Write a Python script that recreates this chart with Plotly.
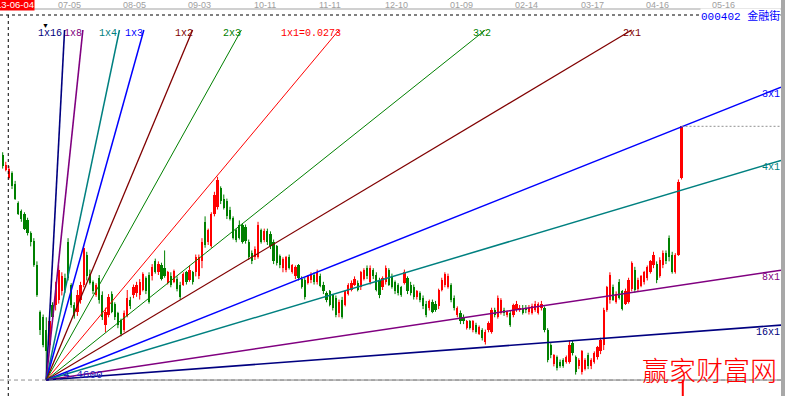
import plotly.graph_objects as go

# ---------------- data ----------------
FIRST_IDX = -2          # bar index of the first bar (index 0 = 2013-06-04)
DATES = ["07-05", "08-05", "09-03", "10-11", "11-11", "12-10",
         "01-09", "02-14", "03-17", "04-16", "05-16"]
DATE_IDX = [20, 41, 62, 83, 104, 125, 146, 167, 188, 209, 230]

OPEN = [
    6.11, 6.00, 5.94, 5.98, 5.90, 5.76, 5.70, 5.68, 5.63, 5.54,
    5.48, 5.30, 4.96, 4.92, 4.83, 4.72, 5.01, 5.01, 5.05, 5.11,
    5.21, 5.47, 5.16, 5.01, 4.96, 5.05, 5.16, 5.38, 5.24, 5.18,
    5.08, 5.21, 5.08, 4.86, 4.94, 5.09, 5.02, 4.95, 4.90, 4.83,
    4.93, 5.05, 5.08, 5.10, 5.08, 5.12, 5.21, 5.23, 5.22, 5.33,
    5.25, 5.30, 5.28, 5.17, 5.22, 5.18, 5.20, 5.16, 5.16, 5.25,
    5.19, 5.25, 5.25, 5.22, 5.33, 5.62, 5.47, 5.44, 5.68, 5.73,
    5.87, 5.79, 5.77, 5.71, 5.65, 5.56, 5.60, 5.60, 5.58, 5.47,
    5.39, 5.36, 5.36, 5.56, 5.49, 5.55, 5.53, 5.47, 5.44, 5.37,
    5.28, 5.27, 5.36, 5.25, 5.22, 5.30, 5.20, 5.19, 5.17, 5.19,
    5.23, 5.18, 5.22, 5.16, 5.10, 5.11, 5.08, 5.06, 4.95, 5.05,
    5.01, 5.09, 5.12, 5.16, 5.17, 5.14, 5.20, 5.28, 5.18, 5.27,
    5.23, 5.19, 5.14, 5.18, 5.27, 5.22, 5.18, 5.16, 5.14, 5.17,
    5.21, 5.16, 5.14, 5.07, 5.10, 5.06, 5.02, 4.99, 5.03, 5.02,
    5.00, 5.12, 5.16, 5.14, 5.16, 5.06, 4.94, 4.95, 4.92, 4.84,
    4.89, 4.83, 4.86, 4.80, 4.83, 4.74, 4.83, 4.81, 4.97, 4.92,
    4.95, 4.97, 4.94, 4.95, 4.94, 4.97, 4.97, 4.99, 4.99, 4.96,
    4.95, 4.97, 4.95, 4.99, 4.99, 4.83, 4.72, 4.58, 4.63, 4.59,
    4.61, 4.59, 4.59, 4.73, 4.63, 4.56, 4.52, 4.54, 4.64, 4.56,
    4.59, 4.63, 4.67, 4.72, 4.97, 5.05, 5.14, 5.03, 5.18, 5.11,
    5.02, 5.03, 5.13, 5.27, 5.13, 5.15, 5.18, 5.21, 5.25, 5.30,
    5.31, 5.22, 5.30, 5.39, 5.50, 5.38, 5.25, 5.38, 5.94,
]
HIGH = [
    6.13, 6.06, 6.03, 5.99, 5.92, 5.77, 5.71, 5.69, 5.65, 5.55,
    5.50, 5.33, 4.97, 4.94, 4.92, 4.92, 5.03, 5.18, 5.30, 5.25,
    5.24, 5.50, 5.17, 5.03, 5.12, 5.18, 5.45, 5.40, 5.27, 5.19,
    5.17, 5.23, 5.11, 4.99, 5.09, 5.11, 5.03, 4.96, 4.91, 4.97,
    5.12, 5.07, 5.16, 5.18, 5.20, 5.25, 5.22, 5.25, 5.31, 5.35,
    5.33, 5.32, 5.41, 5.26, 5.25, 5.27, 5.22, 5.18, 5.25, 5.26,
    5.30, 5.26, 5.38, 5.38, 5.50, 5.66, 5.57, 5.69, 5.84, 5.95,
    5.88, 5.82, 5.79, 5.73, 5.66, 5.57, 5.63, 5.61, 5.60, 5.49,
    5.41, 5.44, 5.62, 5.57, 5.57, 5.57, 5.55, 5.49, 5.45, 5.38,
    5.36, 5.37, 5.38, 5.31, 5.30, 5.31, 5.22, 5.21, 5.23, 5.25,
    5.25, 5.27, 5.24, 5.18, 5.11, 5.12, 5.09, 5.08, 5.05, 5.07,
    5.12, 5.17, 5.19, 5.22, 5.19, 5.26, 5.28, 5.30, 5.30, 5.28,
    5.25, 5.21, 5.22, 5.30, 5.28, 5.24, 5.19, 5.17, 5.15, 5.27,
    5.22, 5.18, 5.16, 5.12, 5.11, 5.08, 5.04, 5.05, 5.05, 5.04,
    5.13, 5.21, 5.25, 5.24, 5.17, 5.08, 5.00, 4.97, 4.94, 4.90,
    4.90, 4.90, 4.88, 4.86, 4.84, 4.83, 4.89, 4.99, 4.99, 5.08,
    5.06, 4.99, 4.97, 4.97, 5.02, 5.04, 5.01, 5.01, 5.01, 5.01,
    5.02, 5.04, 5.03, 5.04, 5.00, 4.84, 4.73, 4.65, 4.64, 4.61,
    4.62, 4.64, 4.75, 4.75, 4.64, 4.62, 4.68, 4.62, 4.66, 4.62,
    4.67, 4.71, 4.77, 4.99, 5.15, 5.25, 5.16, 5.11, 5.20, 5.12,
    5.13, 5.21, 5.33, 5.29, 5.21, 5.23, 5.26, 5.30, 5.34, 5.40,
    5.33, 5.36, 5.41, 5.41, 5.52, 5.40, 5.39, 5.93, 6.32,
]
LOW = [
    6.01, 5.99, 5.93, 5.86, 5.78, 5.67, 5.62, 5.56, 5.52, 5.44,
    5.29, 5.07, 4.79, 4.70, 4.46, 4.68, 4.89, 4.97, 5.02, 5.08,
    5.10, 5.19, 4.99, 4.91, 4.93, 5.02, 5.14, 5.19, 5.16, 5.09,
    5.07, 5.02, 4.90, 4.81, 4.92, 4.95, 4.90, 4.84, 4.78, 4.81,
    4.92, 4.98, 5.06, 5.07, 5.05, 5.11, 5.09, 5.02, 5.19, 5.24,
    5.23, 5.19, 5.21, 5.16, 5.14, 5.17, 5.11, 5.05, 5.15, 5.16,
    5.18, 5.16, 5.22, 5.20, 5.28, 5.43, 5.45, 5.43, 5.66, 5.71,
    5.75, 5.71, 5.64, 5.63, 5.49, 5.47, 5.49, 5.46, 5.46, 5.34,
    5.31, 5.34, 5.35, 5.46, 5.47, 5.45, 5.42, 5.31, 5.30, 5.28,
    5.25, 5.25, 5.27, 5.24, 5.20, 5.19, 5.13, 5.05, 5.16, 5.17,
    5.16, 5.16, 5.14, 5.09, 5.03, 5.00, 4.97, 4.92, 4.92, 4.91,
    5.00, 5.08, 5.11, 5.15, 5.11, 5.12, 5.19, 5.20, 5.16, 5.20,
    5.11, 5.06, 5.12, 5.16, 5.15, 5.13, 5.09, 5.08, 5.07, 5.16,
    5.09, 5.08, 5.05, 5.05, 5.03, 4.98, 4.92, 4.97, 4.95, 4.96,
    4.98, 5.11, 5.14, 5.13, 5.03, 4.97, 4.92, 4.87, 4.87, 4.83,
    4.83, 4.81, 4.80, 4.79, 4.75, 4.72, 4.81, 4.80, 4.92, 4.91,
    4.94, 4.93, 4.92, 4.85, 4.92, 4.96, 4.96, 4.94, 4.95, 4.94,
    4.94, 4.96, 4.94, 4.97, 4.81, 4.59, 4.62, 4.56, 4.53, 4.55,
    4.55, 4.58, 4.58, 4.64, 4.50, 4.54, 4.50, 4.53, 4.54, 4.54,
    4.58, 4.61, 4.65, 4.68, 4.96, 5.02, 5.04, 5.02, 5.05, 4.97,
    5.01, 5.02, 5.11, 5.10, 5.11, 5.14, 5.16, 5.19, 5.24, 5.28,
    5.17, 5.21, 5.28, 5.31, 5.33, 5.24, 5.24, 5.37, 5.93,
]
CLOSE = [
    6.03, 6.04, 6.01, 5.88, 5.79, 5.68, 5.64, 5.57, 5.54, 5.47,
    5.30, 5.08, 4.83, 4.72, 4.67, 4.89, 4.92, 5.16, 5.27, 5.22,
    5.12, 5.21, 5.01, 4.93, 5.08, 5.16, 5.43, 5.22, 5.17, 5.11,
    5.16, 5.05, 4.92, 4.96, 5.07, 4.96, 4.92, 4.86, 4.80, 4.95,
    5.06, 5.00, 5.14, 5.16, 5.18, 5.24, 5.11, 5.03, 5.29, 5.25,
    5.31, 5.20, 5.22, 5.25, 5.16, 5.26, 5.13, 5.07, 5.24, 5.18,
    5.27, 5.18, 5.36, 5.36, 5.47, 5.45, 5.56, 5.68, 5.82, 5.93,
    5.77, 5.72, 5.66, 5.64, 5.50, 5.49, 5.50, 5.47, 5.48, 5.36,
    5.33, 5.42, 5.60, 5.47, 5.55, 5.47, 5.44, 5.33, 5.32, 5.30,
    5.35, 5.36, 5.28, 5.30, 5.29, 5.21, 5.14, 5.07, 5.22, 5.24,
    5.18, 5.25, 5.15, 5.11, 5.05, 5.01, 4.99, 4.94, 5.03, 4.92,
    5.11, 5.16, 5.17, 5.20, 5.12, 5.25, 5.27, 5.22, 5.28, 5.22,
    5.12, 5.08, 5.21, 5.28, 5.16, 5.14, 5.11, 5.10, 5.08, 5.25,
    5.11, 5.10, 5.07, 5.11, 5.05, 5.00, 4.94, 5.04, 4.96, 4.97,
    5.12, 5.19, 5.24, 5.22, 5.05, 4.99, 4.99, 4.89, 4.89, 4.89,
    4.84, 4.89, 4.81, 4.85, 4.77, 4.81, 4.88, 4.97, 4.94, 5.06,
    5.05, 4.95, 4.96, 4.86, 5.01, 5.02, 4.99, 4.95, 4.97, 4.99,
    5.00, 5.02, 5.02, 5.02, 4.83, 4.61, 4.64, 4.64, 4.55, 4.56,
    4.56, 4.63, 4.72, 4.66, 4.52, 4.61, 4.67, 4.61, 4.56, 4.61,
    4.66, 4.70, 4.75, 4.97, 5.14, 5.23, 5.05, 5.09, 5.06, 4.98,
    5.11, 5.19, 5.32, 5.12, 5.19, 5.22, 5.25, 5.29, 5.33, 5.38,
    5.19, 5.34, 5.39, 5.33, 5.36, 5.25, 5.38, 5.91, 6.32,
]

STOCK_LABEL = "000402 金融街"
CURSOR_DATE = "13-06-04"
CURSOR_IDX = 0
WATERMARK = "赢家财富网"

ORIGIN_IDX = 12          # low bar of the Gann fan
ORIGIN_PRICE = 4.46
UNIT = 0.0273            # 1x1 price per bar
FAN_NAMES = ["1x16", "1x8", "1x4", "1x3", "1x2", "2x3", "1x1=0.0273",
             "3x2", "2x1", "3x1", "4x1", "8x1", "16x1"]
FAN_RATIOS = [16, 8, 4, 3, 2, 1.5, 1, 2 / 3, 1 / 2, 1 / 3, 1 / 4, 1 / 8, 1 / 16]

# ---------------- styles ----------------
FAN_COLORS = ["#000080", "#800080", "#008080", "#0000FF", "#800000", "#008000",
              "#FF0000", "#008000", "#800000", "#0000FF", "#008080", "#800080",
              "#000080"]
FAN_WIDTHS = [1.6, 1.6, 1.5, 1.5, 1.3, 1.0, 1.0, 1.0, 1.2, 1.5, 1.5, 1.6, 1.6]
FAN_ANCHORS = ["right", "right", "right", "right", "right", "right", "right",
               "center", "center", "right", "right", "right", "right"]
FAN_XSHIFTS = [-2, 0, -1, 0, 1, 1, 3, -3, 0, 0, 0, 0, 0]
UP_COLOR = "#FF0000"
DOWN_COLOR = "#008000"

W, H = 785, 396
ML, MR, MT, MB = 0, 4, 9, 0
PLOT_H = H - MT - MB
X_RANGE = [-2.86, 247.94]
Y_RANGE = [4.343, 7.180]
FAN_TOP = 7.026


def paper_y(px):
    """pixel row (from top of page) -> paper coordinate"""
    return (H - MB - px) / PLOT_H


idx = list(range(FIRST_IDX, FIRST_IDX + len(OPEN)))
colors = [UP_COLOR if c >= o else DOWN_COLOR for o, c in zip(OPEN, CLOSE)]

fig = go.Figure()

# wicks
for col in (UP_COLOR, DOWN_COLOR):
    xs, ys = [], []
    for i, o, h, l, c, cl in zip(idx, OPEN, HIGH, LOW, CLOSE, colors):
        if cl != col:
            continue
        xs += [i, i, None]
        ys += [min(l, o, c), max(h, o, c), None]
    fig.add_trace(go.Scatter(x=xs, y=ys, mode="lines",
                             line=dict(color=col, width=1), hoverinfo="skip"))

# bodies
fig.add_trace(go.Bar(
    x=idx,
    base=[min(o, c) for o, c in zip(OPEN, CLOSE)],
    y=[max(abs(c - o), 0.004) for o, c in zip(OPEN, CLOSE)],
    width=0.72,
    marker=dict(color=colors, line=dict(width=0)),
    hoverinfo="skip",
))

# base line of the fan (time axis) and the low price line
fig.add_shape(type="line", xref="paper", x0=0, x1=1, yref="y",
              y0=ORIGIN_PRICE, y1=ORIGIN_PRICE,
              line=dict(color="#909090", width=1, dash="4px,3px"))
fig.add_trace(go.Scatter(x=[ORIGIN_IDX, X_RANGE[1]], y=[ORIGIN_PRICE, ORIGIN_PRICE],
                         mode="lines", line=dict(color="#808080", width=1),
                         hoverinfo="skip"))

annotations = []

# fan lines
for name, r, col, lw, anc, xs_ in zip(FAN_NAMES, FAN_RATIOS, FAN_COLORS, FAN_WIDTHS,
                                       FAN_ANCHORS, FAN_XSHIFTS):
    m = r * UNIT
    i_top = ORIGIN_IDX + (FAN_TOP - ORIGIN_PRICE) / m
    if i_top <= X_RANGE[1]:
        xe, ye, top = i_top, FAN_TOP, True
    else:
        xe = X_RANGE[1]
        ye = ORIGIN_PRICE + m * (xe - ORIGIN_IDX)
        top = False
    fig.add_trace(go.Scatter(x=[ORIGIN_IDX, xe], y=[ORIGIN_PRICE, ye], mode="lines",
                             line=dict(color=col, width=lw), hoverinfo="skip"))
    if top:
        annotations.append(dict(x=xe, y=ye, xref="x", yref="y", text=name,
                                showarrow=False, xanchor=anc, yanchor="middle",
                                xshift=xs_, yshift=-3, borderpad=0,
                                font=dict(color=col, size=10, family="Liberation Mono")))
    else:
        annotations.append(dict(x=xe, y=ye, xref="x", yref="y", text=name,
                                showarrow=False, xanchor="right", yanchor="top",
                                yshift=-1, borderpad=0,
                                font=dict(color=col, size=10, family="Liberation Mono")))

# last price dashed line
fig.add_shape(type="line", xref="x", yref="y", x0=idx[-1], x1=X_RANGE[1],
              y0=HIGH[-1], y1=HIGH[-1],
              line=dict(color="#909090", width=1, dash="2px,2px"))
# red tick below last bar
fig.add_shape(type="line", xref="x", yref="y", x0=idx[-1] + 0.4, x1=idx[-1] + 0.4,
              y0=Y_RANGE[0], y1=ORIGIN_PRICE, line=dict(color=UP_COLOR, width=2))

# cursor cross (dashed)
fig.add_shape(type="line", xref="x", yref="paper", x0=CURSOR_IDX - 0.2, x1=CURSOR_IDX - 0.2,
              y0=0, y1=paper_y(15), line=dict(color="black", width=1, dash="3px,3px"))
fig.add_shape(type="line", xref="paper", yref="paper", x0=0, x1=1,
              y0=paper_y(15), y1=paper_y(15),
              line=dict(color="black", width=1, dash="3px,3px"))

# top border & right band
fig.add_shape(type="line", xref="paper", yref="paper", x0=0, x1=1, y0=1, y1=1,
              line=dict(color="#C0C0C0", width=1.5))
fig.add_shape(type="rect", xref="paper", yref="paper", x0=1, x1=1 + 4 / (W - ML - MR),
              y0=-0.02, y1=1.05, fillcolor="#A8A8A8", line=dict(width=0))

# date labels
for d, i in zip(DATES, DATE_IDX):
    annotations.append(dict(x=i, y=1, xref="x", yref="paper", text=d, showarrow=False,
                            xanchor="left", xshift=-14.5, yanchor="middle", yshift=4.5,
                            borderpad=0,
                            font=dict(color="#A0A0A0", size=9, family="Liberation Sans")))

# cursor date box
annotations.append(dict(x=35 / (W - ML - MR), y=1, xref="paper", yref="paper",
                        text=CURSOR_DATE, showarrow=False, xanchor="right",
                        yanchor="middle", yshift=4.5, bgcolor="#FF0000", borderpad=0,
                        font=dict(color="white", size=9.5, family="Liberation Sans")))

# stock label
annotations.append(dict(x=1, y=paper_y(16), xref="paper", yref="paper",
                        text=STOCK_LABEL, showarrow=False, xanchor="right",
                        yanchor="middle", bgcolor="white", borderpad=0,
                        font=dict(color="#0000FF", size=11,
                                  family="Liberation Mono, Noto Sans CJK SC")))

# origin price label
annotations.append(dict(x=ORIGIN_IDX, y=ORIGIN_PRICE, xref="x", yref="y",
                        text=f"{ORIGIN_PRICE:.4f}", showarrow=False, xanchor="left",
                        yanchor="bottom", xshift=16, yshift=-2, borderpad=0,
                        font=dict(color="#2020C0", size=11, family="Liberation Mono")))

# marker triangle above origin
annotations.append(dict(x=ORIGIN_IDX, y=paper_y(25), xref="x", yref="paper",
                        text="▼", showarrow=False, xanchor="center", yanchor="middle",
                        xshift=-1, borderpad=0, font=dict(color="black", size=7)))

# watermark
annotations.append(dict(x=778 / (W - ML - MR), y=paper_y(369), xref="paper", yref="paper",
                        text=WATERMARK, showarrow=False, xanchor="right",
                        yanchor="middle", borderpad=0,
                        font=dict(color="#FF0000", size=27, family="Noto Sans CJK SC",
                                  weight=300)))

fig.update_layout(
    width=W, height=H, autosize=False,
    margin=dict(l=ML, r=MR, t=MT, b=MB, pad=0),
    paper_bgcolor="white", plot_bgcolor="white",
    showlegend=False, hovermode=False,
    annotations=annotations,
    bargap=0,
    xaxis=dict(range=X_RANGE, visible=False, fixedrange=True),
    yaxis=dict(range=Y_RANGE, visible=False, fixedrange=True),
)

fig.write_html("out.html",
               config={"displayModeBar": False, "staticPlot": True},
               post_script="document.body.style.margin='0';document.body.style.overflow='hidden';")
